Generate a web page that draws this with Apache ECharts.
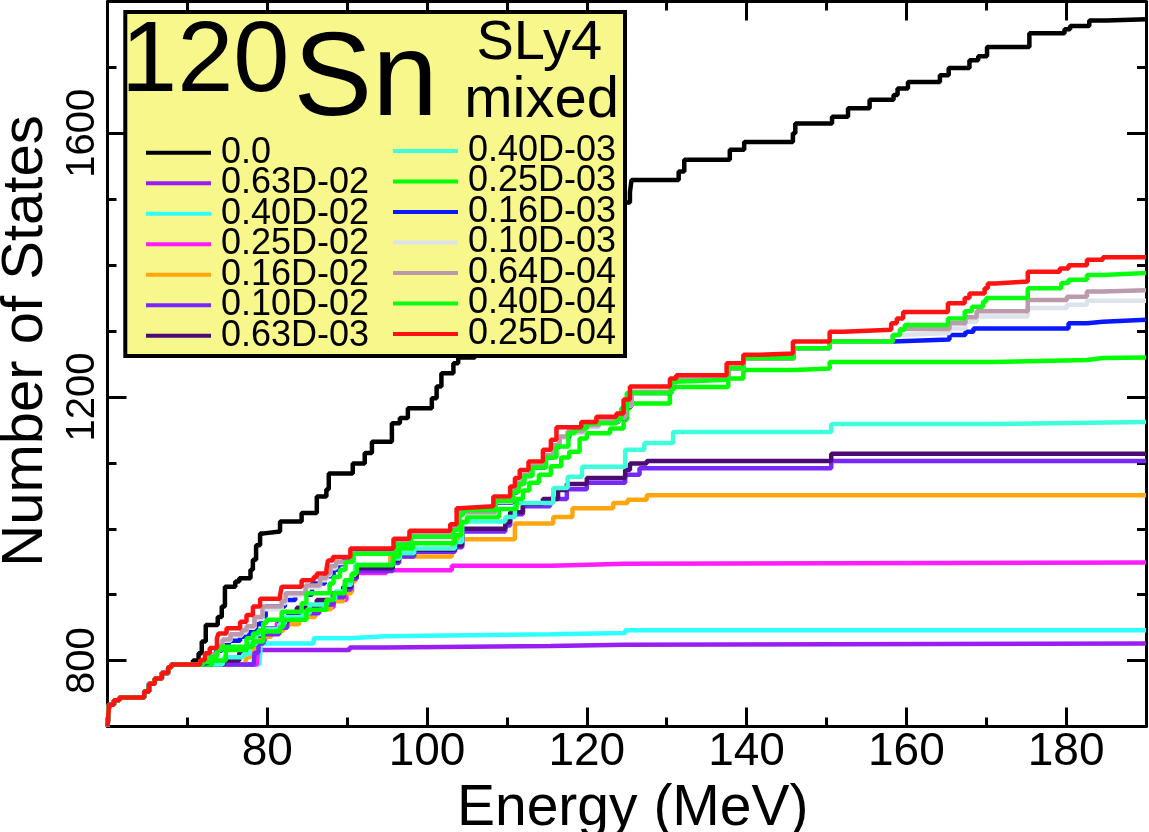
<!DOCTYPE html>
<html>
<head>
<meta charset="utf-8">
<title>120Sn Number of States</title>
<script src="https://cdn.jsdelivr.net/npm/echarts@6/dist/echarts.min.js"></script>
<style>
  html, body { margin: 0; padding: 0; background: #ffffff; }
  #chart { width: 1149px; height: 832px; }
</style>
</head>
<body>
<div id="chart"></div>
<script>
// Axis ranges and labelled ticks
const energyRange = [60, 190];
const statesRange = [700, 1800];
const energyTickLabels = [80, 100, 120, 140, 160, 180];
const statesTickLabels = [800, 1200, 1600];

// Mixing strengths (legend order) and their line colours
const mixingLabels = ['0.0', '0.63D-02', '0.40D-02', '0.25D-02', '0.16D-02', '0.10D-02', '0.63D-03',
                      '0.40D-03', '0.25D-03', '0.16D-03', '0.10D-03', '0.64D-04', '0.40D-04', '0.25D-04'];
const lineColors = ['#000000', '#9a1ef2', '#2effff', '#ff1cff', '#ffa60f', '#7628ff', '#4c0b72',
                    '#3effdc', '#00ff00', '#0a18ff', '#dce3ea', '#bb9aac', '#08ff12', '#ff1212'];

// Cumulative level counts [energy MeV, number of states]; shared low-energy part
const sharedStart = [[60, 700], [60.2, 733], [60.8, 740], [61.5, 744], [64.6, 753], [65.2, 765], [65.9, 773],
                     [66.8, 781], [67.6, 790], [68, 794]];

const states_0_0 = [[70.7, 800], [71.4, 811], [71.8, 829], [72.3, 854], [73.8, 866], [74.3, 882], [74.7, 912],
  [76, 920], [76.5, 925], [77.9, 938], [78.2, 953], [78.6, 975], [79.1, 993], [79.6, 996], [81.6, 1011],
  [84.3, 1024], [86.2, 1049], [87.4, 1060], [87.7, 1084], [90.7, 1099], [92.2, 1115], [93.1, 1132],
  [95.6, 1160], [96.6, 1168], [97.6, 1183], [100.6, 1198], [101.2, 1216], [101.8, 1236], [103.3, 1251],
  [103.9, 1260], [106, 1290], [109, 1330], [112, 1365], [115, 1400], [118, 1435], [121, 1465], [124, 1495],
  [125.4, 1511], [125.6, 1529], [131.5, 1542], [132.2, 1560], [137.9, 1575], [139.7, 1587], [145.8, 1600],
  [146.1, 1615], [150.7, 1625], [152.7, 1638], [155.4, 1651], [158.4, 1658], [158.9, 1668], [160.2, 1678],
  [164.2, 1688], [165.3, 1699], [167.9, 1711], [169, 1717], [170.1, 1731], [175.4, 1752], [179.8, 1758],
  [180.5, 1763], [182.9, 1771], [185.1, 1773], [190, 1773]];

const states_063D02 = [[78.7, 794], [78.9, 816], [90.3, 820], [94.7, 822], [115.5, 824], [124.8, 826], [190, 826]];

const states_040D02 = [[79.0, 794], [79.2, 826], [85.8, 834], [90.3, 837], [94.7, 840], [115.5, 842],
  [124.8, 846], [190, 846]];

const states_025D02 = [[78.7, 794], [78.9, 830], [79.7, 849], [81.2, 857], [83.7, 869], [86, 881], [88.3, 892],
  [89.9, 905], [90.6, 925], [91.2, 933], [94.9, 937], [103.1, 944], [115.5, 947], [124.8, 949], [190, 949]];

const states_016D02 = [[77.2, 794], [77.4, 805], [77.9, 815], [78.5, 826], [79.1, 836], [80.5, 845], [82, 855],
  [84, 866], [86, 878], [88, 890], [89.5, 902], [90.5, 920], [91, 942], [95.4, 958], [103.1, 970], [103.3, 984],
  [111, 1008], [115.8, 1018], [118.2, 1031], [123.3, 1039], [125.1, 1044], [127.5, 1051], [190, 1051]];

const states_010D02 = [[78.3, 794], [78.4, 812], [78.9, 826], [79.5, 840], [81.5, 850], [82.5, 862], [84, 872],
  [86.5, 885], [88.3, 896], [89.6, 908], [90.5, 924], [91.2, 936], [95.7, 948], [96.5, 958], [98.4, 965],
  [103.5, 972], [104.4, 996], [109.8, 1005], [110.4, 1022], [112, 1034], [115.4, 1045], [117.5, 1060],
  [120, 1070], [124.8, 1082], [126.6, 1092], [150.6, 1103], [190, 1104]];

const states_063D03 = [[74.5, 794], [74.6, 800], [76.5, 812], [77.5, 825], [78.5, 838], [79.5, 848], [81.5, 858],
  [82.5, 868], [83.7, 880], [86.2, 892], [88.2, 902], [89.5, 912], [90.5, 928], [91.2, 940], [95.7, 952],
  [96.5, 962], [98.4, 968], [103.5, 975], [104.4, 1000], [109.8, 1010], [110.4, 1025], [112, 1038],
  [114.5, 1045], [116.4, 1059], [117.5, 1068], [120, 1077], [124.8, 1089], [125.4, 1099], [127.5, 1103],
  [150.6, 1114], [190, 1115]];

const states_040D03 = [[74.4, 794], [74.6, 805], [77, 810], [77.8, 825], [78.6, 840], [79.5, 848], [81.5, 856],
  [82.2, 866], [84.5, 872], [85.3, 885], [87.5, 893], [88.5, 905], [89.7, 915], [90.5, 930], [91, 945],
  [95.7, 955], [96.6, 963], [98.4, 970], [103.5, 980], [104.4, 1011], [109.8, 1018], [111, 1039],
  [115.8, 1062], [117.6, 1079], [119.4, 1094], [124.8, 1120], [127.2, 1130], [130.8, 1147], [150.6, 1159],
  [171.3, 1162], [190, 1162]];

const states_025D03 = [[73.1, 800], [74.8, 816], [77.4, 821], [78.2, 829], [79.5, 844], [81.6, 851], [82, 862],
  [84.9, 877], [87.4, 892], [88.3, 902], [89.7, 922], [90.6, 932], [91.2, 945], [95.8, 958], [96.5, 970],
  [98.2, 978], [103.5, 990], [104.3, 1010], [105, 1018], [109, 1030], [111.2, 1045], [112, 1058], [112.8, 1070],
  [114, 1082], [115.5, 1095], [116.8, 1108], [117.8, 1117], [119.1, 1137], [120, 1145], [122.9, 1152],
  [124.6, 1165], [125, 1183], [125.4, 1190], [130.4, 1210], [130.8, 1215], [137.7, 1228], [139.6, 1241],
  [146, 1243], [150.4, 1253], [170.9, 1256], [182.6, 1259], [184.6, 1260], [190, 1260]];

const states_016D03 = [[71.8, 797], [72.6, 806], [73.6, 815], [74.3, 825], [75.2, 830], [76.6, 836], [77.7, 845],
  [78.6, 855], [79.2, 867], [79.8, 882], [82.2, 892], [83.5, 900], [85.6, 917], [87.2, 928], [88.3, 938],
  [88.9, 946], [89.6, 953], [90.6, 966], [96, 979], [97.8, 990], [103.2, 1000], [104, 1025], [108.6, 1040],
  [110.7, 1055], [111.3, 1068], [112, 1080], [113, 1093], [114.8, 1108], [115.8, 1124], [116.6, 1138],
  [117.8, 1147], [119.6, 1156], [121.5, 1162], [124, 1168], [124.8, 1186], [125.6, 1206], [130.6, 1222],
  [131.2, 1226], [137.7, 1243], [139.6, 1258], [145.9, 1274], [150.4, 1284], [158.3, 1287], [165.4, 1294],
  [167.4, 1299], [168.4, 1304], [180.3, 1312], [182.6, 1314], [184.6, 1317], [190, 1317]];

const states_010D03 = [[71.8, 799], [72.5, 809], [73.8, 820], [74.4, 830], [75.4, 838], [76.8, 843], [77.4, 850],
  [78.4, 863], [79.4, 878], [81.8, 887], [82.3, 899], [84.8, 911], [86.6, 922], [87.4, 930], [87.9, 940],
  [88.6, 948], [90.6, 962], [96, 978], [97.8, 989], [103.2, 999], [104, 1024], [108.6, 1041], [110.7, 1056],
  [111.3, 1069], [112, 1081], [113, 1094], [114.8, 1110], [115.8, 1126], [116.6, 1138], [117.6, 1146],
  [119.6, 1156], [121.5, 1163], [124, 1169], [124.8, 1187], [125.6, 1207], [130.6, 1222], [131.2, 1226],
  [137.7, 1243], [139.6, 1258], [145.9, 1274], [150.4, 1284], [158.3, 1294], [159.2, 1297], [165.4, 1304],
  [167.4, 1314], [168.8, 1322], [175.2, 1335], [180.1, 1340], [182.6, 1346], [190, 1347]];

const states_064D04 = [[71.8, 800], [72.4, 810], [73.8, 822], [74.4, 832], [75.4, 840], [76.8, 846], [77.4, 852],
  [78.4, 866], [79.4, 882], [81.8, 890], [82.3, 902], [84.8, 914], [86.6, 925], [87.4, 932], [87.9, 943],
  [88.6, 950], [90.6, 963], [96, 979], [97.8, 990], [103.2, 1000], [104, 1025], [108.6, 1042], [110.7, 1057],
  [111.3, 1070], [112, 1082], [113, 1095], [114.8, 1112], [115.8, 1127], [116.6, 1140], [117.6, 1148],
  [119.6, 1157], [121.5, 1164], [124, 1170], [124.8, 1188], [125.6, 1208], [130.6, 1222], [131.2, 1226],
  [137.7, 1243], [139.6, 1258], [145.9, 1274], [150.4, 1284], [158.3, 1294], [159.2, 1303], [165.4, 1312],
  [167.4, 1321], [168.8, 1330], [175.2, 1347], [180.1, 1352], [182.6, 1360], [184.6, 1362], [190, 1362]];

const states_040D04 = [[72, 798], [72.9, 806], [73.7, 816], [74.3, 821], [77.4, 834], [78.2, 841], [78.9, 846],
  [79.5, 857], [79.9, 862], [81.8, 874], [84.3, 887], [84.9, 902], [87.8, 917], [88.3, 927], [89.1, 938],
  [89.8, 950], [90.8, 962], [96, 976], [98, 988], [103.3, 998], [104, 1021], [104.5, 1028], [108.6, 1042],
  [110.8, 1056], [111.5, 1068], [112.2, 1080], [113.2, 1093], [114.9, 1108], [116.2, 1125], [117.7, 1145],
  [118.5, 1152], [120, 1160], [123.7, 1166], [124.3, 1183], [125, 1206], [130.6, 1223], [131, 1226],
  [137.7, 1244], [139.6, 1259], [145.9, 1274], [150.4, 1284], [158.3, 1294], [159.2, 1302], [159.8, 1309],
  [165.2, 1319], [167.3, 1330], [168.2, 1337], [169.6, 1345], [170, 1350], [175.2, 1365], [179.4, 1373],
  [180.3, 1378], [182.6, 1385], [184.6, 1388], [190, 1388]];

const states_025D04 = [[71.6, 801], [72.2, 811], [72.8, 819], [73.7, 834], [73.9, 841], [74.9, 849], [76.6, 859],
  [77.4, 869], [78.2, 882], [79.1, 894], [81.6, 899], [81.8, 912], [84.3, 922], [85.8, 927], [86.2, 932],
  [87.4, 938], [87.6, 952], [88.2, 957], [90.4, 970], [95.8, 985], [97.8, 997], [102.9, 1007], [103.7, 1031],
  [104.1, 1034], [108.3, 1049], [110.4, 1064], [111, 1077], [111.6, 1089], [112.7, 1102], [114.5, 1120],
  [115.5, 1135], [116.2, 1154], [119.3, 1162], [121.2, 1170], [123.7, 1175], [124.6, 1196], [125.4, 1216],
  [130.4, 1228], [131.2, 1233], [137.5, 1251], [139.6, 1264], [141.7, 1266], [145.8, 1284], [150.4, 1299],
  [152.1, 1302], [158.1, 1312], [158.8, 1319], [159.6, 1329], [165.2, 1342], [167.3, 1350], [167.9, 1357],
  [169.8, 1365], [170.2, 1372], [171.1, 1375], [175.2, 1390], [179.2, 1395], [180.3, 1400], [182.6, 1408],
  [184.6, 1412], [190, 1412]];

const curves = [states_0_0, states_063D02, states_040D02, states_025D02, states_016D02, states_010D02,
  states_063D03, states_040D03, states_025D03, states_016D03, states_010D03, states_064D04, states_040D04,
  states_025D04];

const FONT = '"Liberation Sans", Arial, Helvetica, sans-serif';

const chart = echarts.init(document.getElementById('chart'), null, { renderer: 'canvas' });

const gridBox = { left: 107.5, right: 3, top: 1.5, bottom: 105.5, containLabel: false, outerBoundsMode: 'none' };

function energyAxis(gridIndex, position, major) {
  return {
    type: 'value', gridIndex, position, min: energyRange[0], max: energyRange[1],
    interval: major ? undefined : 10,
    axisLine: { show: major, onZero: false, lineStyle: { color: '#000', width: 3 } },
    axisTick: major
      ? { show: true, inside: true, length: 19, customValues: energyTickLabels, lineStyle: { color: '#000', width: 3 } }
      : { show: true, inside: true, length: 9, lineStyle: { color: '#000', width: 3 } },
    axisLabel: (major && position === 'bottom')
      ? { show: true, customValues: energyTickLabels, formatter: v => String(v),
          fontSize: 46, color: '#000', fontFamily: FONT, margin: 3 }
      : { show: false },
    splitLine: { show: false },
    name: (major && position === 'bottom') ? 'Energy (MeV)' : '',
    nameLocation: 'middle', nameGap: 43,
    nameTextStyle: { fontSize: 57, color: '#000', fontFamily: FONT, padding: [0, 0, 0, 12] }
  };
}

function statesAxis(gridIndex, position, major) {
  return {
    type: 'value', gridIndex, position, min: statesRange[0], max: statesRange[1],
    interval: major ? undefined : 100,
    axisLine: { show: major, onZero: false, lineStyle: { color: '#000', width: 3 } },
    axisTick: major
      ? { show: true, inside: true, length: 19, customValues: statesTickLabels, lineStyle: { color: '#000', width: 3 } }
      : { show: true, inside: true, length: 9, lineStyle: { color: '#000', width: 3 } },
    axisLabel: (major && position === 'left')
      ? { show: true, customValues: statesTickLabels, formatter: v => String(v), rotate: 90,
          fontSize: 40, color: '#000', fontFamily: FONT, margin: 5 }
      : { show: false },
    splitLine: { show: false },
    name: (major && position === 'left') ? 'Number of States' : '',
    nameLocation: 'middle', nameGap: 45, nameRotate: 90,
    nameTextStyle: { fontSize: 58, color: '#000', fontFamily: FONT, padding: [0, 0, 0, 46] }
  };
}

const series = curves.map((pts, i) => ({
  name: mixingLabels[i],
  type: 'line',
  xAxisIndex: 0,
  yAxisIndex: 0,
  step: 'end',
  showSymbol: false,
  symbol: 'none',
  color: lineColors[i],
  lineStyle: { color: lineColors[i], width: 4.5 },
  data: sharedStart.concat(pts),
  z: 2,
  animation: false
}));

function legendBlock(names, left, top) {
  return {
    show: true, orient: 'vertical', left, top, padding: 0,
    data: names,
    icon: 'rect', itemWidth: 65, itemHeight: 4, itemGap: -5.5,
    selectedMode: false, z: 6,
    formatter: name => '{t|' + name + '}',
    textStyle: {
      color: '#000', fontFamily: FONT, fontSize: 36,
      rich: { t: { fontSize: 36, color: '#000', fontFamily: FONT, padding: [0, 0, 0, 5] } }
    }
  };
}

const option = {
  backgroundColor: '#ffffff',
  animation: false,
  grid: [Object.assign({}, gridBox), Object.assign({}, gridBox)],
  xAxis: [energyAxis(0, 'bottom', true), energyAxis(0, 'top', true),
          energyAxis(1, 'bottom', false), energyAxis(1, 'top', false)],
  yAxis: [statesAxis(0, 'left', true), statesAxis(0, 'right', true),
          statesAxis(1, 'left', false), statesAxis(1, 'right', false)],
  legend: [legendBlock(mixingLabels.slice(0, 7), 146, 134.7),
           legendBlock(mixingLabels.slice(7), 393, 133)],
  graphic: [
    { type: 'rect', z: 3, shape: { x: 125.3, y: 12, width: 499.7, height: 344 },
      style: { fill: '#f7f78b', stroke: '#000', lineWidth: 4 } },
    { type: 'text', z: 7, style: { text: '120', x: 121, y: 63, font: '101px ' + FONT, fill: '#000',
      textAlign: 'left', textVerticalAlign: 'middle', verticalAlign: 'middle' } },
    { type: 'text', z: 7, style: { text: 'Sn', x: 293.5, y: 82, font: '118px ' + FONT, fill: '#000',
      textAlign: 'left', textVerticalAlign: 'middle', verticalAlign: 'middle' } },
    { type: 'text', z: 7, style: { text: 'SLy4', x: 476.5, y: 43.9, font: '56px ' + FONT, fill: '#000',
      textAlign: 'left', textVerticalAlign: 'middle', verticalAlign: 'middle' } },
    { type: 'text', z: 7, style: { text: 'mixed', x: 464.3, y: 100.6, font: '58px ' + FONT, fill: '#000',
      textAlign: 'left', textVerticalAlign: 'middle', verticalAlign: 'middle' } }
  ],
  series
};

chart.setOption(option);
</script>
</body>
</html>
